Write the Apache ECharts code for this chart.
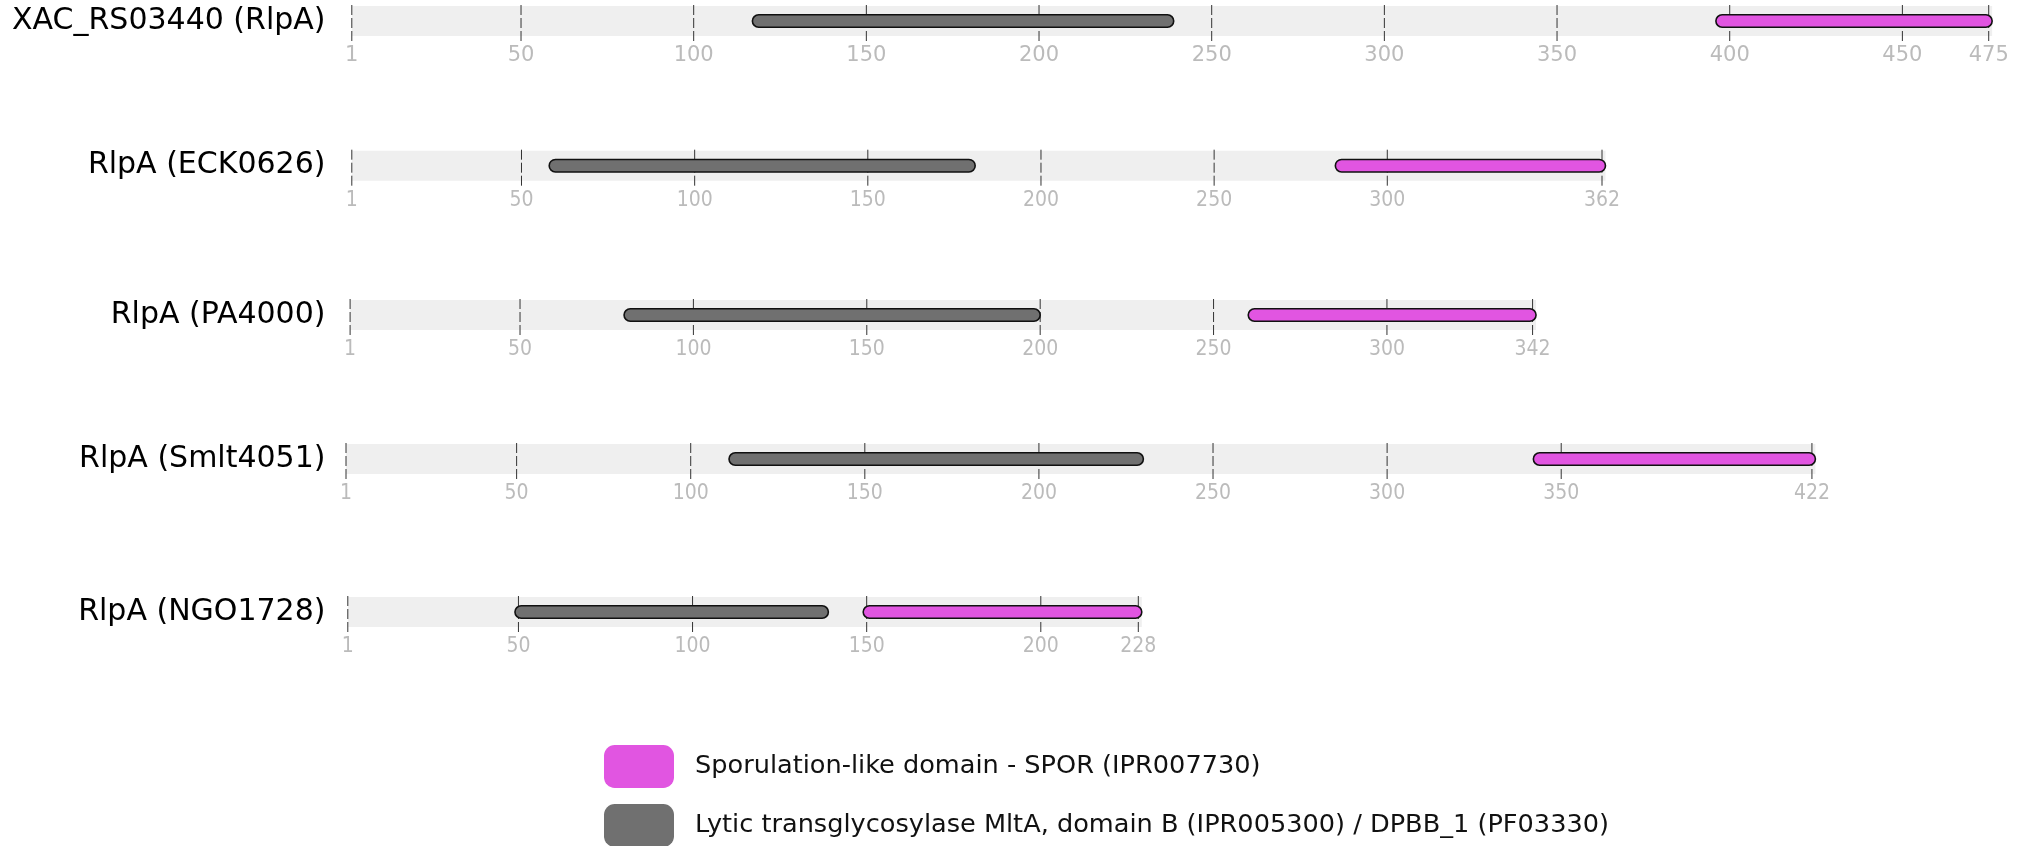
<!DOCTYPE html>
<html>
<head>
<meta charset="utf-8">
<style>html,body{margin:0;padding:0;background:#fff}#chart{width:2034px;height:846px}</style>
<script src="https://cdn.jsdelivr.net/npm/echarts@6/dist/echarts.min.js"></script>
</head>
<body>
<div id="chart"></div>
<script>
// ---- data ----
const trackNames = ['XAC_RS03440 (RlpA)', 'RlpA (ECK0626)', 'RlpA (PA4000)', 'RlpA (Smlt4051)', 'RlpA (NGO1728)'];
const trackLengths = [475, 362, 342, 422, 228];
const sporDomains = [[396, 475], [285, 362], [260, 342], [342, 422], [149, 228]];
const mltaDomains = [[117, 238], [58, 180], [80, 199], [111, 229], [49, 138]];
const tickValues = [
  [1, 50, 100, 150, 200, 250, 300, 350, 400, 450, 475],
  [1, 50, 100, 150, 200, 250, 300, 362],
  [1, 50, 100, 150, 200, 250, 300, 342],
  [1, 50, 100, 150, 200, 250, 300, 350, 422],
  [1, 50, 100, 150, 200, 228]
];
const sporName = 'Sporulation-like domain - SPOR (IPR007730)';
const mltaName = 'Lytic transglycosylase MltA, domain B (IPR005300) / DPBB_1 (PF03330)';

// ---- layout ----
const gridLeft = [351.8, 351.8, 350.1, 346, 347.8];
const pxPerUnit = [3.4534, 3.4632, 3.4677, 3.482, 3.4824];
const gridTop = [6, 150.7, 300, 444, 597];
const nameRight = 325.5;
const bandH = 30;
const barH = 12.5;
const SPOR_COLOR = '#e155e1';
const MLTA_COLOR = '#707070';

const grids = [], xAxes = [], yAxes = [], series = [];
trackNames.forEach((name, i) => {
  const len = trackLengths[i];
  grids.push({
    left: gridLeft[i], top: gridTop[i],
    width: len * pxPerUnit[i], height: bandH,
    show: true, backgroundColor: '#efefef', borderWidth: 0
  });
  xAxes.push({
    gridIndex: i, type: 'value', min: 1, max: len + 1,
    axisLine: {show: false}, splitLine: {show: false},
    axisTick: {show: false},
    axisLabel: {
      customValues: tickValues[i], margin: 9,
      color: '#bbbbbb', fontSize: 21,
      fontFamily: i === 0 ? 'DejaVu Sans' : "'DejaVu Sans Condensed', 'Liberation Sans Narrow', 'Liberation Sans', sans-serif",
      showMinLabel: true, showMaxLabel: true
    }
  });
  yAxes.push({
    gridIndex: i, type: 'category', data: [name],
    axisLine: {show: false}, axisTick: {show: false}, splitLine: {show: false},
    axisLabel: {margin: gridLeft[i] - nameRight, fontSize: 30, color: '#000', fontFamily: 'DejaVu Sans'}
  });
  // tick lines
  series.push({
    type: 'custom', xAxisIndex: i, yAxisIndex: i, silent: true, clip: false, z: 1,
    data: tickValues[i].map(v => [v]),
    encode: {x: 0},
    renderItem: (params, api) => {
      const x = api.coord([api.value(0), 0])[0];
      const cs = params.coordSys;
      return {
        type: 'line',
        shape: {x1: x, y1: cs.y - 1, x2: x, y2: cs.y + cs.height + 8},
        style: {stroke: '#333', lineWidth: 1, lineDash: [10, 3]}
      };
    }
  });
  const barSeries = (sname, color, dom) => ({
    type: 'custom', name: sname, xAxisIndex: i, yAxisIndex: i, clip: false, z: 3,
    itemStyle: {color: color},
    data: [dom],
    encode: {x: [0, 1]},
    renderItem: (params, api) => {
      const p0 = api.coord([api.value(0), 0]);
      const p1 = api.coord([api.value(1) + 1, 0]);
      return {
        type: 'rect',
        shape: {x: p0[0], y: p0[1] - barH / 2, width: p1[0] - p0[0], height: barH, r: barH / 2},
        style: {fill: color, stroke: '#111', lineWidth: 1.6}
      };
    }
  });
  series.push(barSeries(mltaName, MLTA_COLOR, mltaDomains[i]));
  series.push(barSeries(sporName, SPOR_COLOR, sporDomains[i]));
});

const legendBase = {
  orient: 'vertical', left: 604, padding: 0,
  itemWidth: 70, itemHeight: 43, icon: 'roundRect',
  selectedMode: false,
  itemStyle: {borderWidth: 0},
  textStyle: {fontSize: 25.6, color: '#111', fontFamily: 'DejaVu Sans', padding: [0, 0, 0, 16]}
};

const chart = echarts.init(document.getElementById('chart'), null, {renderer: 'canvas'});
chart.setOption({
  animation: false,
  backgroundColor: '#fff',
  grid: grids, xAxis: xAxes, yAxis: yAxes, series: series,
  legend: [
    Object.assign({}, legendBase, {top: 745, data: [sporName]}),
    Object.assign({}, legendBase, {top: 804, data: [mltaName]})
  ]
});
</script>
</body>
</html>
